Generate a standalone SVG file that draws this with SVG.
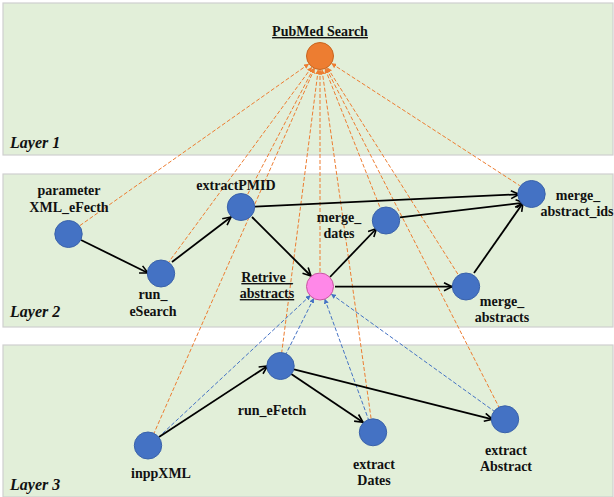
<svg xmlns="http://www.w3.org/2000/svg" width="614" height="497" viewBox="0 0 614 497">
<style>
.layer{fill:#e2efd9;stroke:#cfcfcf;stroke-width:1.2}
.ltxt{font-family:"Liberation Serif",serif;font-weight:bold;font-style:italic;font-size:16px;fill:#111}
.lbl{font-family:"Liberation Serif",serif;font-weight:bold;font-size:14px;fill:#111;text-anchor:middle}
.ul{text-decoration:underline}
.blue{fill:#4472c4;stroke:#3a62aa;stroke-width:1}
.org{fill:#ed7d31;stroke:#c9651f;stroke-width:1}
.pink{fill:#ff88e8;stroke:#c8559f;stroke-width:1}
.e{stroke:#000;stroke-width:1.8;fill:none;marker-end:url(#open)}
.od{stroke:#ed7d31;stroke-width:1;stroke-dasharray:4 2;fill:none;marker-start:url(#oa)}
.bd{stroke:#4472c4;stroke-width:1;stroke-dasharray:4 2;fill:none;marker-start:url(#ba)}
</style>
<defs>
<marker id="open" viewBox="0 0 10 10" refX="9" refY="5" markerWidth="10" markerHeight="10" markerUnits="userSpaceOnUse" orient="auto">
<path d="M1,1 L9,5 L1,9" fill="none" stroke="#000" stroke-width="1.6"/>
</marker>
<marker id="oa" viewBox="0 0 10 10" refX="9" refY="5" markerWidth="5" markerHeight="5" markerUnits="userSpaceOnUse" orient="auto-start-reverse">
<path d="M0,0 L10,5 L0,10 Z" fill="#ed7d31"/>
</marker>
<marker id="ba" viewBox="0 0 10 10" refX="9" refY="5" markerWidth="5" markerHeight="5" markerUnits="userSpaceOnUse" orient="auto-start-reverse">
<path d="M0,0 L10,5 L0,10 Z" fill="#4472c4"/>
</marker>
</defs>
<rect width="614" height="497" fill="#fff"/>
<g id="layers">
<rect class="layer" x="3" y="3" width="610" height="152"/>
<rect class="layer" x="3" y="174" width="610" height="153"/>
<rect class="layer" x="3" y="345" width="610" height="152"/>
<text class="ltxt" x="10" y="148">Layer 1</text>
<text class="ltxt" x="10" y="317">Layer 2</text>
<text class="ltxt" x="10" y="490">Layer 3</text>
</g>
<g id="connectors">
<line class="od" x1="308.6" y1="64.1" x2="79" y2="226.2"/>
<line class="od" x1="311.7" y1="67.3" x2="168" y2="263.1"/>
<line class="od" x1="313.5" y1="68.4" x2="247.3" y2="195"/>
<line class="od" x1="314.4" y1="68.8" x2="153.4" y2="434.6"/>
<line class="od" x1="318.2" y1="69.9" x2="281.7" y2="352.6"/>
<line class="od" x1="320" y1="70" x2="320" y2="272.5"/>
<line class="od" x1="322" y1="69.9" x2="371.1" y2="418.6"/>
<line class="od" x1="325.2" y1="69" x2="380" y2="207.4"/>
<line class="od" x1="326.4" y1="68.5" x2="498.9" y2="407"/>
<line class="od" x1="327.5" y1="67.8" x2="458.8" y2="275.6"/>
<line class="od" x1="331.7" y1="63.6" x2="519.7" y2="185.6"/>
<line class="bd" x1="310.2" y1="295.6" x2="157.9" y2="437.8"/>
<line class="bd" x1="313.7" y1="298.5" x2="286" y2="353.9"/>
<line class="bd" x1="324.8" y1="299.2" x2="368.4" y2="419.3"/>
<line class="bd" x1="331.4" y1="294.2" x2="494" y2="411.1"/>
<line class="e" x1="81" y1="240" x2="148" y2="273"/>
<line class="e" x1="172" y1="262" x2="231" y2="217"/>
<line class="e" x1="255" y1="206.7" x2="519" y2="194.3"/>
<line class="e" x1="252" y1="217" x2="311" y2="276"/>
<line class="e" x1="330" y1="277" x2="376.5" y2="228.5"/>
<line class="e" x1="335" y1="286.7" x2="452" y2="286.7"/>
<line class="e" x1="400" y1="217.3" x2="524" y2="202.7"/>
<line class="e" x1="474" y1="273" x2="523" y2="203"/>
<line class="e" x1="159" y1="437" x2="267.5" y2="366"/>
<line class="e" x1="290.5" y1="373.5" x2="363" y2="422.3"/>
<line class="e" x1="294" y1="369.3" x2="492.5" y2="419.3"/>
</g>
<g id="pubmed">
<ellipse class="org" cx="320" cy="56" rx="13.5" ry="13.5"/>
<text class="lbl ul" x="320" y="36">PubMed Search</text>
</g>
<g id="parameter">
<ellipse class="blue" cx="68.5" cy="234" rx="13.7" ry="13.5"/>
<text class="lbl" x="69" y="195">parameter</text>
<text class="lbl" x="69" y="212">XML_eFecth</text>
</g>
<g id="run_eSearch">
<ellipse class="blue" cx="161" cy="273.5" rx="13.7" ry="13.5"/>
<text class="lbl" x="153" y="299">run_</text>
<text class="lbl" x="153" y="316">eSearch</text>
</g>
<g id="extractPMID">
<ellipse class="blue" cx="241" cy="207" rx="13.7" ry="13.5"/>
<text class="lbl" x="236" y="190">extractPMID</text>
</g>
<g id="merge_dates">
<ellipse class="blue" cx="386" cy="220.5" rx="13.7" ry="13.5"/>
<text class="lbl" x="339" y="222">merge_</text>
<text class="lbl" x="339" y="238">dates</text>
</g>
<g id="merge_abstract_ids">
<ellipse class="blue" cx="531.5" cy="194" rx="13.7" ry="13.5"/>
<text class="lbl" x="578" y="200">merge_</text>
<text class="lbl" x="577" y="216">abstract_ids</text>
</g>
<g id="retrive_abstracts">
<ellipse class="pink" cx="320" cy="286.5" rx="13.5" ry="13.5"/>
<text class="lbl ul" x="267" y="282">Retrive_</text>
<text class="lbl ul" x="267" y="298">abstracts</text>
</g>
<g id="merge_abstracts">
<ellipse class="blue" cx="466" cy="286.5" rx="13.7" ry="13.5"/>
<text class="lbl" x="502" y="306">merge_</text>
<text class="lbl" x="502" y="322">abstracts</text>
</g>
<g id="run_eFetch">
<ellipse class="blue" cx="280.5" cy="366" rx="13.7" ry="13.5"/>
<text class="lbl" x="272" y="415">run_eFetch</text>
</g>
<g id="inppXML">
<ellipse class="blue" cx="148" cy="445.5" rx="13.7" ry="13.5"/>
<text class="lbl" x="161" y="478">inppXML</text>
</g>
<g id="extract_dates">
<ellipse class="blue" cx="373" cy="432.3" rx="13.7" ry="13.5"/>
<text class="lbl" x="374" y="469">extract</text>
<text class="lbl" x="374" y="485">Dates</text>
</g>
<g id="extract_abstract">
<ellipse class="blue" cx="505" cy="419.3" rx="13.7" ry="13.5"/>
<text class="lbl" x="506" y="455">extract</text>
<text class="lbl" x="506" y="471">Abstract</text>
</g>
</svg>
